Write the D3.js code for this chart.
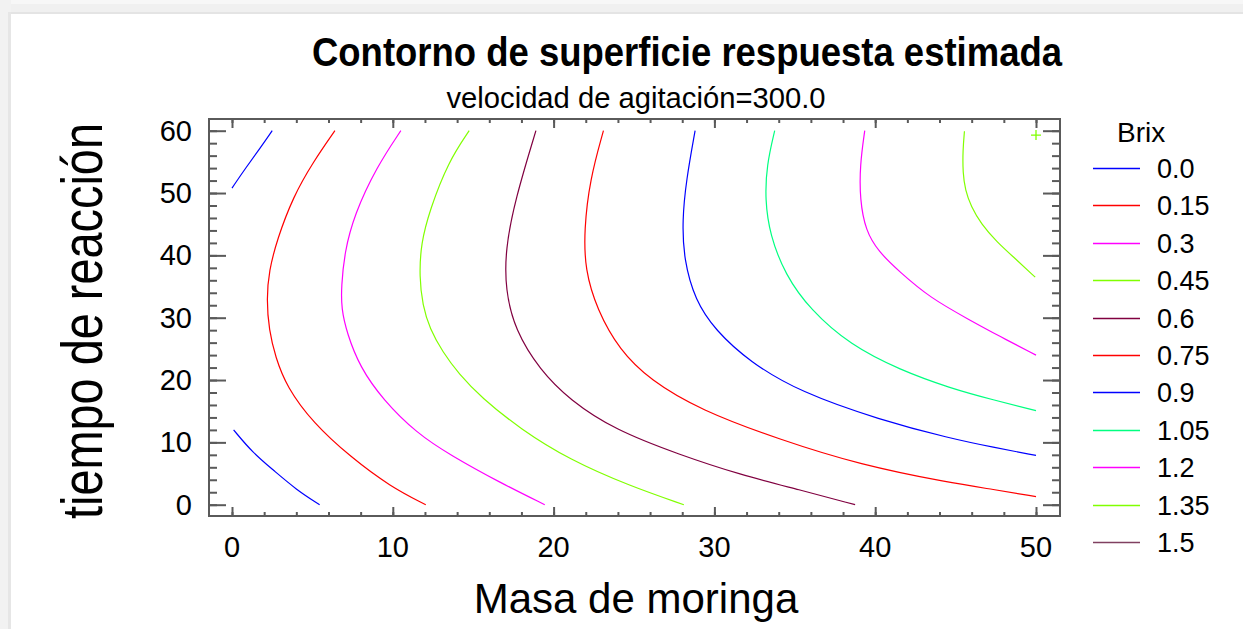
<!DOCTYPE html>
<html>
<head>
<meta charset="utf-8">
<script src="https://cdn.jsdelivr.net/npm/d3@7"></script>
<style>
  body { margin: 0; background: #fff; }
  svg { display: block; font-family: "Liberation Sans", Arial, sans-serif; }
</style>
</head>
<body>
<div id="chart"></div>
<script>
// contour levels of Brix and the colour used for each
const levels = ["0.0", "0.15", "0.3", "0.45", "0.6", "0.75", "0.9", "1.05", "1.2", "1.35", "1.5"];
const levelColors = ["#0000ff", "#ff0000", "#ff00ff", "#80ff00", "#800040", "#ff0000",
                     "#0000ff", "#00ff80", "#ff00ff", "#80ff00", "#804060"];

const xTicks = [0, 10, 20, 30, 40, 50];
const yTicks = [0, 10, 20, 30, 40, 50, 60];

// [Masa de moringa, tiempo de reacción]
const c000a = [[0, 50.8], [0.9, 54.2], [1.75, 57.2], [2.5, 60]];
const c000b = [[0.1, 12.0], [1.3, 8.3], [2.55, 5.6], [4.0, 2.4], [5.45, 0]];
const c015 = [[6.4, 60], [5.05, 55], [3.8, 49.4], [2.8, 42.5], [2.3, 37.5], [2.15, 33],
              [2.3, 28], [2.7, 23.7], [3.4, 18.9], [5.05, 13.1], [7.35, 7.7], [9.85, 2.9], [12.05, 0]];
const c030 = [[10.5, 60], [9.0, 54.2], [7.6, 46.5], [7.0, 40.5], [6.8, 35.0], [6.8, 31.5],
              [7.15, 27.5], [7.95, 22.1], [9.4, 16.8], [11.5, 11.45], [13.55, 8.0], [16.7, 3.5], [19.45, 0]];
const c045 = [[14.75, 60], [13.45, 55.0], [12.3, 47.3], [11.75, 41.9], [11.65, 36.6], [11.85, 32.0],
              [12.3, 28.2], [13.1, 24.5], [14.1, 21.0], [15.5, 17.2], [17.9, 12.2], [21.0, 7.2],
              [24.75, 3.0], [28.1, 0]];
const c060 = [[18.9, 60], [17.6, 48.9], [17.0, 40.9], [17.0, 34.5], [17.6, 28.0], [19.15, 21.6],
              [21.0, 16.8], [23.8, 12.0], [27.85, 8.0], [31.6, 4.8], [35.3, 2.4], [38.75, 0]];
const c075 = [[23.1, 60], [22.25, 52.1], [21.9, 44.1], [21.95, 37.7], [22.7, 31.3], [24.1, 24.8],
              [26.0, 20.0], [29.1, 15.2], [34.1, 10.4], [39.05, 6.4], [44.65, 3.5], [47.35, 2.45], [50, 1.3]];
const c090 = [[28.8, 60], [28.25, 52.1], [28.0, 45.6], [28.1, 39.3], [28.8, 32.8], [30.05, 28.0],
              [32.2, 22.9], [35.3, 18.1], [40.3, 13.6], [44.65, 10.65], [47.35, 9.2], [50, 7.9]];
const c105 = [[33.75, 60], [33.25, 54.5], [33.15, 48.9], [33.45, 43.3], [34.4, 36.9], [35.95, 31.3],
              [38.45, 25.6], [41.55, 21.6], [44.65, 18.7], [47.35, 16.8], [50, 15.1]];
const c120 = [[39.35, 60], [39.05, 54.5], [39.05, 48.9], [39.4, 44.0], [40.2, 40.6], [41.5, 37.4],
              [43.4, 33.2], [45.9, 29.6], [47.75, 27.0], [50, 24.0]];
const c135 = [[45.55, 59.9], [45.45, 56.9], [45.45, 53.2], [45.6, 50.5], [45.95, 47.9], [46.6, 45.0],
              [47.55, 42.2], [48.7, 39.5], [49.95, 36.5]];

const optimum = [50, 59.3];

const contourLines = [
  { level: 0, points: c000a }, { level: 0, points: c000b }, { level: 1, points: c015 },
  { level: 2, points: c030 }, { level: 3, points: c045 }, { level: 4, points: c060 },
  { level: 5, points: c075 }, { level: 6, points: c090 }, { level: 7, points: c105 },
  { level: 8, points: c120 }, { level: 9, points: c135 }
];

const width = 1243, height = 629;
const frame = { left: 209, right: 1060, top: 119, bottom: 516 };

const svg = d3.select("#chart").append("svg")
  .attr("width", width)
  .attr("height", height);

// window chrome at the top and left edge of the screenshot
svg.append("rect").attr("x", 0).attr("y", 0).attr("width", width).attr("height", 13).attr("fill", "#f0f0f0");
svg.append("rect").attr("x", 0).attr("y", 0).attr("width", width).attr("height", 4).attr("fill", "#f7f7f7");
svg.append("rect").attr("x", 0).attr("y", 12).attr("width", width).attr("height", 2).attr("fill", "#e4e4e4");
svg.append("rect").attr("x", 0).attr("y", 0).attr("width", 11).attr("height", height).attr("fill", "#f2f2f2");
svg.append("rect").attr("x", 8).attr("y", 12).attr("width", 3).attr("height", height).attr("fill", "#e6e6e6");

const x = d3.scaleLinear().domain([0, 50]).range([232, 1036]);
const y = d3.scaleLinear().domain([0, 60]).range([504.7, 130.7]);

const axisColor = "#5a5a5a";

function styleAxis(g) {
  g.select(".domain").remove();
  g.selectAll(".tick line").attr("stroke", axisColor).attr("stroke-width", 2);
  g.selectAll(".tick text").remove();
}

const xMinor = d3.range(0, 51, 2);
const yMinor = d3.range(0, 61, 2);

// bottom and top ticks (inward)
[[frame.bottom, d3.axisTop], [frame.top, d3.axisBottom]].forEach(([pos, ax]) => {
  svg.append("g").attr("transform", `translate(0,${pos})`)
    .call(ax(x).tickValues(xMinor).tickSize(4)).call(styleAxis);
  svg.append("g").attr("transform", `translate(0,${pos})`)
    .call(ax(x).tickValues(xTicks).tickSize(9)).call(styleAxis);
});
// left and right ticks (inward)
[[frame.left, d3.axisRight], [frame.right, d3.axisLeft]].forEach(([pos, ax]) => {
  svg.append("g").attr("transform", `translate(${pos},0)`)
    .call(ax(y).tickValues(yMinor).tickSize(8)).call(styleAxis);
  svg.append("g").attr("transform", `translate(${pos},0)`)
    .call(ax(y).tickValues(yTicks).tickSize(17)).call(styleAxis);
});

svg.append("rect")
  .attr("x", frame.left).attr("y", frame.top)
  .attr("width", frame.right - frame.left).attr("height", frame.bottom - frame.top)
  .attr("fill", "none").attr("stroke", axisColor).attr("stroke-width", 2);

// tick labels
svg.append("g").selectAll("text").data(xTicks).join("text")
  .attr("x", d => x(d)).attr("y", 557)
  .attr("text-anchor", "middle").attr("font-size", 29).attr("fill", "#000")
  .text(d => d);
svg.append("g").selectAll("text").data(yTicks).join("text")
  .attr("x", 192).attr("y", d => y(d) + 10)
  .attr("text-anchor", "end").attr("font-size", 29).attr("fill", "#000")
  .text(d => d);

// contour lines
const line = d3.line()
  .x(d => x(d[0]))
  .y(d => y(d[1]))
  .curve(d3.curveBasis);

svg.append("g").selectAll("path").data(contourLines).join("path")
  .attr("d", d => line(d.points))
  .attr("fill", "none")
  .attr("stroke", d => levelColors[d.level])
  .attr("stroke-width", 1.2);

// optimum marker
const ox = x(optimum[0]), oy = y(optimum[1]);
svg.append("path")
  .attr("d", `M${ox - 5},${oy}H${ox + 5}M${ox},${oy - 5}V${oy + 5}`)
  .attr("fill", "none").attr("stroke", "#80ff00").attr("stroke-width", 1.3);

// titles
svg.append("text").attr("x", 687).attr("y", 66)
  .attr("text-anchor", "middle").attr("font-size", 41).attr("font-weight", "bold")
  .attr("textLength", 750).attr("lengthAdjust", "spacingAndGlyphs")
  .text("Contorno de superficie respuesta estimada");
svg.append("text").attr("x", 636).attr("y", 108)
  .attr("text-anchor", "middle").attr("font-size", 29)
  .attr("textLength", 379).attr("lengthAdjust", "spacingAndGlyphs")
  .text("velocidad de agitación=300.0");
svg.append("text").attr("x", 636).attr("y", 613)
  .attr("text-anchor", "middle").attr("font-size", 42)
  .text("Masa de moringa");
svg.append("text")
  .attr("transform", "translate(102,321) rotate(-90)")
  .attr("text-anchor", "middle").attr("font-size", 57)
  .attr("textLength", 396).attr("lengthAdjust", "spacingAndGlyphs")
  .text("tiempo de reacción");

// legend
const legend = svg.append("g");
legend.append("text").attr("x", 1117).attr("y", 142).attr("font-size", 28).text("Brix");
const rows = legend.selectAll("g.row").data(levels).join("g")
  .attr("class", "row")
  .attr("transform", (d, i) => `translate(0,${Math.round(168 + i * 37.4) + 0.5})`);
rows.append("line")
  .attr("x1", 1093).attr("x2", 1140)
  .attr("stroke", (d, i) => levelColors[i]).attr("stroke-width", 1.3);
rows.append("text")
  .attr("x", 1157).attr("y", 9.5).attr("font-size", 27)
  .text(d => d);
</script>
</body>
</html>
